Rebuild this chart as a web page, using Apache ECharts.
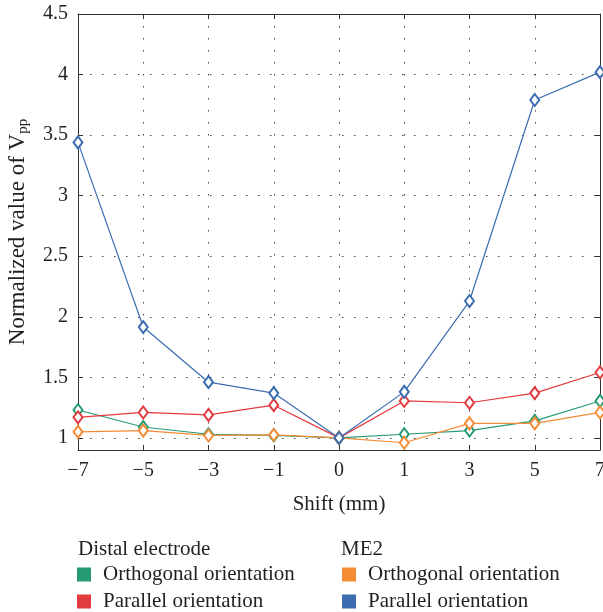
<!DOCTYPE html>
<html>
<head>
<meta charset="utf-8">
<script src="https://cdn.jsdelivr.net/npm/echarts@6/dist/echarts.min.js"></script>
<style>html,body{margin:0;padding:0;background:#fff}#c{width:603px;height:612px}</style>
</head>
<body>
<div id="c"></div>
<script>
var shifts = ['\u22127', '\u22125', '\u22123', '\u22121', '0', '1', '3', '5', '7'];
var distalOrthogonal = [1.23, 1.09, 1.03, 1.02, 1.0, 1.03, 1.06, 1.14, 1.305];
var distalParallel = [1.17, 1.21, 1.19, 1.27, 1.0, 1.305, 1.29, 1.37, 1.54];
var me2Orthogonal = [1.05, 1.06, 1.02, 1.025, 1.0, 0.96, 1.12, 1.12, 1.21];
var me2Parallel = [3.44, 1.915, 1.46, 1.37, 1.0, 1.38, 2.13, 3.79, 4.02];
var yTicks = [1, 1.5, 2, 2.5, 3, 3.5, 4, 4.5];

var FONT = '"Liberation Serif", "DejaVu Serif", serif';
var TXT = '#231f20';
var colors = {g: '#279a74', r: '#e23a3f', o: '#f48c35', b: '#3b6db0'};
var nameMap = {
  'Distal Orthogonal': 'Orthogonal orientation',
  'Distal Parallel': 'Parallel orientation',
  'ME2 Orthogonal': 'Orthogonal orientation',
  'ME2 Parallel': 'Parallel orientation'
};
function mk(name, data, color) {
  return {
    name: name, type: 'line', data: data, xAxisIndex: 0, yAxisIndex: 0,
    symbol: 'emptyDiamond', symbolSize: [9, 12],
    lineStyle: {color: color, width: 1.2},
    itemStyle: {color: color, borderColor: color, borderWidth: 1.2},
    animation: false
  };
}
function legend(left, top, name) {
  return {
    left: left, top: top, orient: 'horizontal', icon: 'rect',
    itemWidth: 12, itemHeight: 12, padding: 0,
    data: [name],
    formatter: function (n) { return nameMap[n]; },
    textStyle: {fontFamily: FONT, fontSize: 21, color: TXT, padding: [0, 0, 0, 8]},
    selectedMode: false
  };
}
var chart = echarts.init(document.getElementById('c'), null, {renderer: 'canvas'});
chart.setOption({
  animation: false,
  grid: {left: 78, right: 3, top: 14, bottom: 162, outerBoundsMode: 'none', containLabel: false},
  xAxis: [{
    type: 'category', data: shifts, boundaryGap: false, position: 'bottom',
    name: 'Shift (mm)', nameLocation: 'middle', nameGap: 44,
    nameTextStyle: {fontFamily: FONT, fontSize: 21, color: TXT},
    axisLine: {lineStyle: {color: '#333', width: 1}},
    axisTick: {inside: true, length: 5, lineStyle: {color: '#333'}},
    axisLabel: {fontFamily: FONT, fontSize: 20, color: TXT, margin: 11},
    splitLine: {show: true, lineStyle: {color: '#444', type: [1.5, 10.5], width: 1}}
  }, {
    type: 'category', data: shifts, boundaryGap: false, position: 'top',
    axisLine: {lineStyle: {color: '#333', width: 1}},
    axisTick: {inside: true, length: 5, lineStyle: {color: '#333'}},
    axisLabel: {show: false}, splitLine: {show: false}
  }],
  yAxis: [{
    type: 'value', min: 0.9, max: 4.5, position: 'left',
    name: '{a|Normalized value of V}{b|pp}', nameLocation: 'middle', nameGap: 47,
    nameTextStyle: {
      fontFamily: FONT, fontSize: 23, color: TXT,
      rich: {
        a: {fontFamily: FONT, fontSize: 23, color: TXT},
        b: {fontFamily: FONT, fontSize: 15, color: TXT, padding: [12, 0, 0, 0]}
      }
    },
    axisLine: {show: true, lineStyle: {color: '#333', width: 1}},
    axisTick: {show: true, inside: true, length: 5, customValues: yTicks, lineStyle: {color: '#333'}},
    axisLabel: {fontFamily: FONT, fontSize: 20, color: TXT, margin: 10, customValues: yTicks},
    splitLine: {show: true, lineStyle: {color: '#444', type: [1.5, 10.5], width: 1}}
  }, {
    type: 'value', min: 0.9, max: 4.5, position: 'right',
    axisLine: {show: true, lineStyle: {color: '#333', width: 1}},
    axisTick: {show: true, inside: true, length: 5, customValues: yTicks, lineStyle: {color: '#333'}},
    axisLabel: {show: false, customValues: yTicks}, splitLine: {show: false}
  }],
  legend: [
    legend(77, 564, 'Distal Orthogonal'),
    legend(77, 591, 'Distal Parallel'),
    legend(342, 564, 'ME2 Orthogonal'),
    legend(342, 591, 'ME2 Parallel')
  ],
  graphic: [
    {type: 'text', left: 78, top: 539, style: {text: 'Distal electrode', font: '21px ' + FONT, fill: TXT}},
    {type: 'text', left: 341, top: 539, style: {text: 'ME2', font: '21px ' + FONT, fill: TXT}}
  ],
  series: [
    mk('Distal Orthogonal', distalOrthogonal, colors.g),
    mk('Distal Parallel', distalParallel, colors.r),
    mk('ME2 Orthogonal', me2Orthogonal, colors.o),
    mk('ME2 Parallel', me2Parallel, colors.b)
  ]
});
</script>
</body>
</html>
